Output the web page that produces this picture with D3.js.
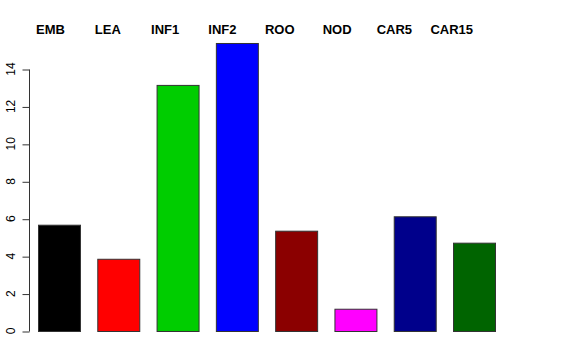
<!DOCTYPE html>
<html><head><meta charset="utf-8">
<script src="https://cdn.jsdelivr.net/npm/d3@7"></script>
<style>body{margin:0;background:#fff}svg{display:block}</style>
</head><body>
<svg id="c" width="576" height="360"></svg>
<script>
const categories = ["EMB","LEA","INF1","INF2","ROO","NOD","CAR5","CAR15"];
const values = [5.68, 3.86, 13.15, 15.39, 5.36, 1.19, 6.13, 4.72];
const colors = ["#000000","#FF0000","#00CD00","#0000FF","#8B0000","#FF00FF","#00008B","#006400"];
const yTicks = [0,2,4,6,8,10,12,14];

const svg = d3.select("#c");
const x = d3.scaleBand().domain(categories).range([38, 495]).paddingInner(0.292).paddingOuter(0);
const y = d3.scaleLinear().domain([0,14]).range([331, 69]);
const xl = d3.scalePoint().domain(categories).range([50.5, 451.7]);

svg.append("g").selectAll("rect").data(categories).join("rect")
  .attr("x", d => x(d)+0.5)
  .attr("y", (d,i) => y(values[i])+0.5)
  .attr("width", x.bandwidth())
  .attr("height", (d,i) => y(0)-y(values[i]))
  .attr("fill", (d,i) => colors[i])
  .attr("stroke", "#333")
  .attr("stroke-width", 1);

const ax = svg.append("g").attr("transform","translate(29.5,0.5)")
  .call(d3.axisLeft(y).tickValues(yTicks).tickSize(7).tickPadding(0).tickFormat(d3.format("d")));
ax.select(".domain").attr("stroke","#333").attr("d", `M0,${y(0)}V${y(14)}`);
ax.selectAll(".tick line").attr("stroke","#333");
ax.selectAll(".tick text").remove();
svg.append("g").selectAll("text").data(yTicks).join("text")
  .attr("transform", d => `translate(14.5,${y(d)}) rotate(-90)`)
  .attr("text-anchor","middle")
  .attr("font-family","Liberation Sans, Arial, sans-serif")
  .attr("font-size",12)
  .attr("fill","#000")
  .text(d => d);

svg.append("g").selectAll("text").data(categories).join("text")
  .attr("x", d => xl(d))
  .attr("y", 34)
  .attr("text-anchor","middle")
  .attr("font-family","Liberation Sans, Arial, sans-serif")
  .attr("font-weight","bold")
  .attr("font-size",13)
  .attr("fill","#000")
  .text(d => d);
</script>
</body></html>
